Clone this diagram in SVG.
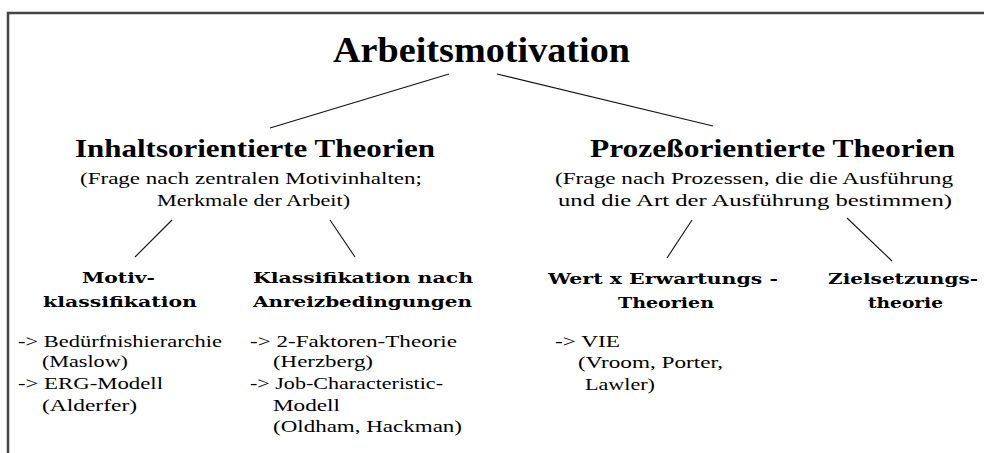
<svg xmlns="http://www.w3.org/2000/svg" width="984" height="453" viewBox="0 0 984 453">
  <style>
    .t0 { font-family: "Liberation Serif", "Times New Roman", serif; font-weight: bold; font-size: 36px; fill: #000; }
    .t1 { font-family: "Liberation Serif", "Times New Roman", serif; font-weight: bold; font-size: 25px; fill: #000; }
    .t2 { font-family: "DejaVu Serif", "Liberation Serif", serif; font-weight: bold; font-size: 15px; fill: #000; }
    .r { font-family: "Liberation Serif", "Times New Roman", serif; font-size: 17px; fill: #000; }
    .edge { stroke: #111; stroke-width: 1.1; fill: none; }
    .frame { stroke: #444; stroke-width: 2.5; fill: none; }
  </style>
  <rect width="984" height="453" fill="#fff"/>
  <path class="frame" d="M8,453 V13 H984"/>

  <g id="connectors">
    <line class="edge" x1="449" y1="74" x2="270" y2="128"/>
    <line class="edge" x1="497" y1="74" x2="713" y2="126"/>
    <line class="edge" x1="172" y1="220" x2="135" y2="257"/>
    <line class="edge" x1="330" y1="220" x2="355" y2="257"/>
    <line class="edge" x1="692" y1="220" x2="667" y2="258"/>
    <line class="edge" x1="847" y1="218" x2="892" y2="261"/>
  </g>

  <g id="root">
    <text class="t0" x="333" y="62" textLength="297" lengthAdjust="spacingAndGlyphs">Arbeitsmotivation</text>
  </g>

  <g id="inhalt">
    <text class="t1" x="75" y="157" textLength="360" lengthAdjust="spacingAndGlyphs">Inhaltsorientierte Theorien</text>
    <text class="r" x="80" y="184" textLength="342" lengthAdjust="spacingAndGlyphs">(Frage nach zentralen Motivinhalten;</text>
    <text class="r" x="157" y="206" textLength="193" lengthAdjust="spacingAndGlyphs">Merkmale der Arbeit)</text>
  </g>

  <g id="prozess">
    <text class="t1" x="590" y="157" textLength="365" lengthAdjust="spacingAndGlyphs">Prozeßorientierte Theorien</text>
    <text class="r" x="555" y="184" textLength="398" lengthAdjust="spacingAndGlyphs">(Frage nach Prozessen, die die Ausführung</text>
    <text class="r" x="558" y="206" textLength="394" lengthAdjust="spacingAndGlyphs">und die Art der Ausführung bestimmen)</text>
  </g>

  <g id="motiv">
    <text class="t2" x="82" y="283" textLength="73" lengthAdjust="spacingAndGlyphs">Motiv-</text>
    <text class="t2" x="43" y="307" textLength="154" lengthAdjust="spacingAndGlyphs">klassifikation</text>
    <text class="r" x="18" y="347" textLength="204" lengthAdjust="spacingAndGlyphs">-&gt; Bedürfnishierarchie</text>
    <text class="r" x="42" y="367" textLength="86" lengthAdjust="spacingAndGlyphs">(Maslow)</text>
    <text class="r" x="18" y="389" textLength="145" lengthAdjust="spacingAndGlyphs">-&gt; ERG-Modell</text>
    <text class="r" x="42" y="411" textLength="95" lengthAdjust="spacingAndGlyphs">(Alderfer)</text>
  </g>

  <g id="anreiz">
    <text class="t2" x="253" y="283" textLength="220" lengthAdjust="spacingAndGlyphs">Klassifikation nach</text>
    <text class="t2" x="253" y="307" textLength="219" lengthAdjust="spacingAndGlyphs">Anreizbedingungen</text>
    <text class="r" x="250" y="347" textLength="207" lengthAdjust="spacingAndGlyphs">-&gt; 2-Faktoren-Theorie</text>
    <text class="r" x="273" y="367" textLength="100" lengthAdjust="spacingAndGlyphs">(Herzberg)</text>
    <text class="r" x="250" y="389" textLength="193" lengthAdjust="spacingAndGlyphs">-&gt; Job-Characteristic-</text>
    <text class="r" x="273" y="411" textLength="67" lengthAdjust="spacingAndGlyphs">Modell</text>
    <text class="r" x="273" y="432" textLength="189" lengthAdjust="spacingAndGlyphs">(Oldham, Hackman)</text>
  </g>

  <g id="wert">
    <text class="t2" x="548" y="284" textLength="230" lengthAdjust="spacingAndGlyphs">Wert x Erwartungs -</text>
    <text class="t2" x="618" y="308" textLength="96" lengthAdjust="spacingAndGlyphs">Theorien</text>
    <text class="r" x="555" y="347" textLength="65" lengthAdjust="spacingAndGlyphs">-&gt; VIE</text>
    <text class="r" x="578" y="368" textLength="145" lengthAdjust="spacingAndGlyphs">(Vroom, Porter,</text>
    <text class="r" x="585" y="390" textLength="70" lengthAdjust="spacingAndGlyphs">Lawler)</text>
  </g>

  <g id="ziel">
    <text class="t2" x="828" y="284" textLength="150" lengthAdjust="spacingAndGlyphs">Zielsetzungs-</text>
    <text class="t2" x="868" y="308" textLength="75" lengthAdjust="spacingAndGlyphs">theorie</text>
  </g>
</svg>
